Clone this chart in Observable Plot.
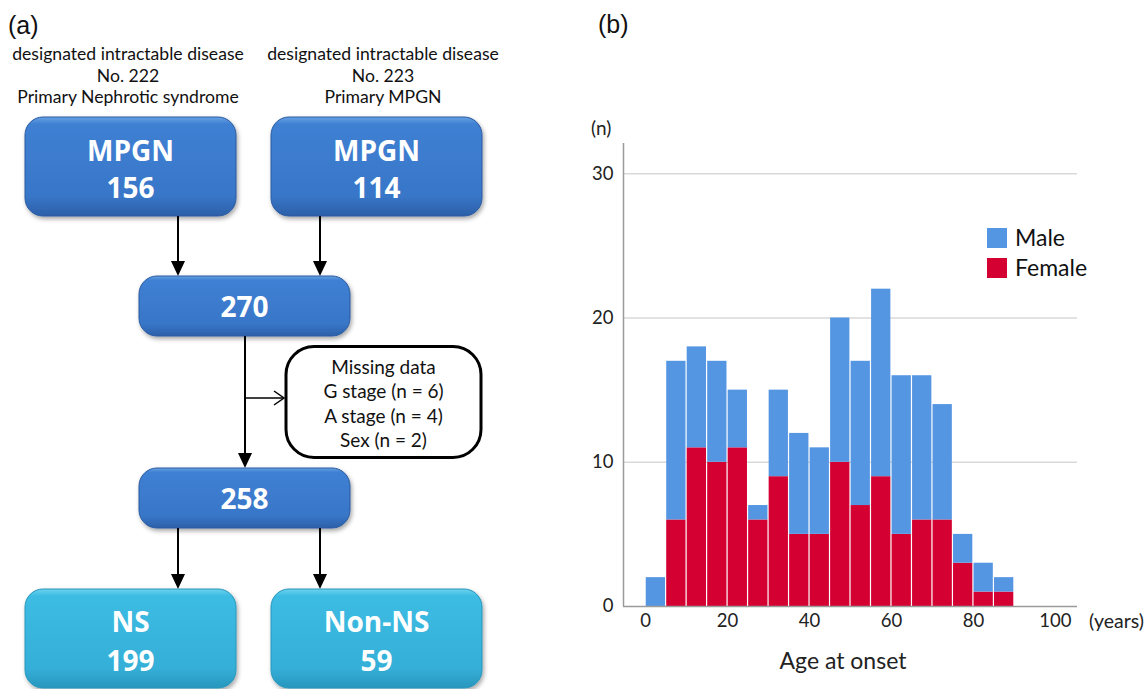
<!DOCTYPE html>
<html><head><meta charset="utf-8">
<script src="https://cdn.jsdelivr.net/npm/d3@7"></script>
<script src="https://cdn.jsdelivr.net/npm/@observablehq/plot@0.6"></script>
<style>
body{margin:0;background:#fff;}
#root{position:relative;width:1145px;height:689px;overflow:hidden;font-family:Lato,"Open Sans",sans-serif;color:#111;}
.abs{position:absolute;white-space:nowrap;line-height:1;}
</style></head><body><div id="root"></div>
<script>
// ---------- data: histogram (b) ----------
const binStart = [0,5,10,15,20,25,30,35,40,45,50,55,60,65,70,75,80,85];
const binWidth = 5;
const female   = [0,6,11,10,11,6,9,5,5,10,7,9,5,6,6,3,1,1];
const male     = [2,11,7,7,4,1,6,7,6,10,10,13,11,10,8,2,2,1];
const sexes = ["Male","Female"];
const sexColors = ["#5596e3","#d40032"];
const yTicks = [0,10,20,30];
const xTicks = [0,20,40,60,80,100];
const xLabel = "Age at onset";
const xUnit = "(years)";
const yUnit = "(n)";

// ---------- data: flowchart (a) ----------
const sourceHeaders = [
  ["designated intractable disease","No. 222","Primary Nephrotic syndrome"],
  ["designated intractable disease","No. 223","Primary MPGN"]
];
const sourceBoxes = [["MPGN","156"],["MPGN","114"]];
const mergedCount = "270";
const analysedCount = "258";
const missingLines = ["Missing data","G stage (n = 6)","A stage (n = 4)","Sex (n = 2)"];
const outcomeBoxes = [["NS","199"],["Non-NS","59"]];
const panelLabels = ["(a)","(b)"];

const root = document.getElementById("root");

// ---------- flowchart ----------
const svg = d3.select(root).append("svg")
  .attr("width",540).attr("height",689)
  .style("position","absolute").style("left","0px").style("top","0px");
const defs = svg.append("defs");
function grad(id, stops){
  const g = defs.append("linearGradient").attr("id",id).attr("x1",0).attr("y1",0).attr("x2",0).attr("y2",1);
  stops.forEach(([o,c])=> g.append("stop").attr("offset",o).attr("stop-color",c));
}
grad("blueG",[["0%","#6aa3e4"],["7%","#3f80d3"],["80%","#3876c8"],["100%","#2c5fa8"]]);
grad("cyanG",[["0%","#6fd2ef"],["7%","#3cbce3"],["80%","#35afd8"],["100%","#2896bd"]]);
const f = defs.append("filter").attr("id","sh").attr("x","-10%").attr("y","-10%").attr("width","125%").attr("height","130%");
f.append("feDropShadow").attr("dx",1.5).attr("dy",2.5).attr("stdDeviation",2).attr("flood-color","#000").attr("flood-opacity",0.35);

svg.append("text").attr("x",8).attr("y",34).attr("font-family","'Liberation Sans',Arial,sans-serif")
  .attr("font-size",25).attr("fill","#111").text(panelLabels[0]);

const headerCx = [128, 383];
sourceHeaders.forEach((lines,i)=>{
  lines.forEach((t,j)=>{
    svg.append("text").attr("x",headerCx[i]).attr("y",60 + j*21.5)
      .attr("text-anchor","middle").attr("font-size",17.6).attr("fill","#111").text(t);
  });
});

function box(x,y,w,h,fill,lines,ys,fs){
  const g = svg.append("g");
  g.append("rect").attr("x",x).attr("y",y).attr("width",w).attr("height",h).attr("rx",18)
    .attr("fill",`url(#${fill})`).attr("stroke", fill==="blueG" ? "#2a5aa0" : "#2896bb").attr("stroke-width",1)
    .attr("filter","url(#sh)");
  lines.forEach((t,j)=>{
    g.append("text").attr("x",x+w/2).attr("y",ys[j]).attr("text-anchor","middle")
      .attr("font-family","'Open Sans',sans-serif").attr("font-weight",700).attr("font-size",fs)
      .attr("fill","#fff").text(t);
  });
}
function arrowDown(x,y0,y1){
  svg.append("line").attr("x1",x).attr("x2",x).attr("y1",y0).attr("y2",y1-13).attr("stroke","#000").attr("stroke-width",2);
  svg.append("path").attr("d",`M${x-7},${y1-15}L${x+7},${y1-15}L${x},${y1}Z`).attr("fill","#000");
}

const srcX = [25, 271];
sourceBoxes.forEach((b,i)=> box(srcX[i],117,211,99,"blueG",b,[161,198],28));
arrowDown(178,216,276);
arrowDown(320,216,276);
box(139,276,211,60,"blueG",[mergedCount],[317],28);
arrowDown(245,336,468);
// side branch
svg.append("line").attr("x1",245).attr("x2",284).attr("y1",398).attr("y2",398).attr("stroke","#000").attr("stroke-width",1.5);
svg.append("path").attr("d","M274,391L284,398L274,405").attr("fill","none").attr("stroke","#000").attr("stroke-width",1.5);
svg.append("rect").attr("x",286).attr("y",346.5).attr("width",195).attr("height",111).attr("rx",28)
  .attr("fill","#fff").attr("stroke","#000").attr("stroke-width",3);
missingLines.forEach((t,j)=>{
  svg.append("text").attr("x",383.5).attr("y",373.5 + j*24.5).attr("text-anchor","middle")
    .attr("font-size",19).attr("fill","#111").text(t);
});
box(139,468,211,60,"blueG",[analysedCount],[509],28);
arrowDown(178,528,589);
arrowDown(320,528,589);
outcomeBoxes.forEach((b,i)=> box(srcX[i],589,211,99,"cyanG",b,[632,671],28));

// ---------- histogram ----------
const rows = binStart.flatMap((s,i)=>[
  {x1:s, x2:s+binWidth, sex:"Female", n:female[i]},
  {x1:s, x2:s+binWidth, sex:"Male",   n:male[i]}
]);
const xDom = [-5.4, 105.4];
const chart = Plot.plot({
  width: 565, height: 689,
  marginLeft: 43, marginRight: 68, marginTop: 143, marginBottom: 83,
  style: {fontFamily: "Lato, 'Open Sans', sans-serif", fontSize: "18.5px", color: "#222", background: "transparent", overflow: "visible"},
  x: {domain: xDom},
  y: {domain: [0, 32.1]},
  color: {domain: sexes, range: sexColors},
  marks: [
    Plot.gridY(yTicks.filter(d=>d>0), {stroke:"#d9d9d9", strokeOpacity:1, strokeWidth:1.5}),
    Plot.rectY(rows, {x1:"x1", x2:"x2", y:"n", fill:"sex", order:["Female","Male"], insetLeft:0.6, insetRight:0.6}),
    Plot.ruleX([xDom[0]], {stroke:"#9a9a9a", strokeWidth:1.5}),
    Plot.ruleY([0], {stroke:"#9a9a9a", strokeWidth:1.5}),
    Plot.axisX({ticks: xTicks, tickSize: 0, tickPadding: 7, label: null, fontSize: 18.5}),
    Plot.axisY({ticks: yTicks, tickSize: 0, tickPadding: 10, label: null, fontSize: 18.5})
  ]
});
chart.style.position = "absolute";
chart.style.left = "580px";
chart.style.top = "0px";
root.appendChild(chart);

function addText(t, left, top, size, extra){
  const d = document.createElement("div");
  d.className = "abs";
  d.textContent = t;
  d.style.left = left+"px"; d.style.top = top+"px"; d.style.fontSize = size+"px";
  if (extra) Object.assign(d.style, extra);
  root.appendChild(d);
  return d;
}
addText(panelLabels[1], 598, 12, 25, {fontFamily:"'Liberation Sans',Arial,sans-serif"});
addText(yUnit, 591, 118, 19, {color:"#222"});
addText(xUnit, 1089, 611, 19.5, {color:"#222"});
addText(xLabel, 843, 649, 23, {transform:"translateX(-50%)", color:"#222"});

// legend
sexes.forEach((s,i)=>{
  const sw = document.createElement("div");
  sw.className = "abs";
  Object.assign(sw.style,{left:"987px", top:(228+i*30)+"px", width:"20px", height:"20px", background:sexColors[i]});
  root.appendChild(sw);
  addText(s, 1015, 226+i*30, 23);
});
</script></body></html>
